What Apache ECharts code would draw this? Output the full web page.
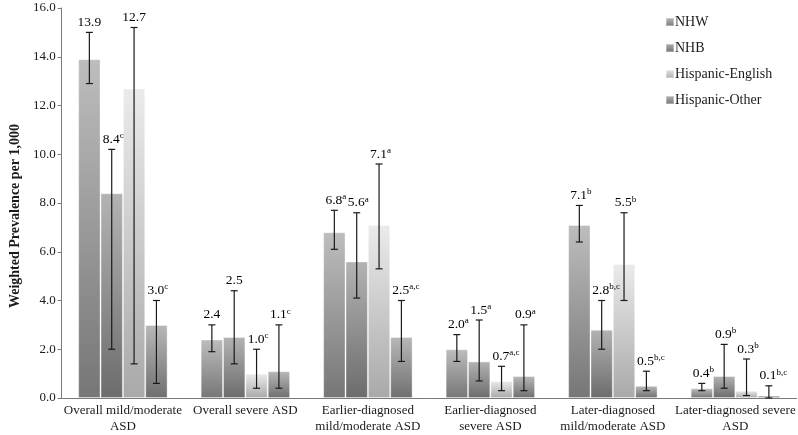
<!DOCTYPE html>
<html>
<head>
<meta charset="utf-8">
<script src="https://cdn.jsdelivr.net/npm/echarts@6/dist/echarts.min.js"></script>
<style>html,body{margin:0;padding:0;background:#fff}#c{width:798px;height:435px}</style>
</head>
<body>
<div id="c"></div>
<script>
var categories = ['Overall mild/moderate\nASD', 'Overall severe ASD', 'Earlier-diagnosed\nmild/moderate ASD', 'Earlier-diagnosed\nsevere ASD', 'Later-diagnosed\nmild/moderate ASD', 'Later-diagnosed severe\nASD'];
var seriesNames = ['NHW', 'NHB', 'Hispanic-English', 'Hispanic-Other'];

var nhw = [13.9, 2.4, 6.8, 2.0, 7.1, 0.4];
var nhb = [8.4, 2.5, 5.6, 1.5, 2.8, 0.9];
var hispEng = [12.7, 1.0, 7.1, 0.7, 5.5, 0.3];
var hispOther = [3.0, 1.1, 2.5, 0.9, 0.5, 0.1];

var nhwLow = [12.9, 1.9, 6.1, 1.5, 6.4, 0.3];
var nhwHigh = [15.0, 3.0, 7.7, 2.6, 7.9, 0.6];
var nhbLow = [2.0, 1.4, 4.1, 0.7, 2.0, 0.4];
var nhbHigh = [10.2, 4.4, 7.6, 3.2, 4.0, 2.2];
var heLow = [1.4, 0.4, 5.3, 0.3, 4.0, 0.1];
var heHigh = [15.2, 2.0, 9.6, 1.3, 7.6, 1.6];
var hoLow = [0.6, 0.4, 1.5, 0.3, 0.3, 0.0];
var hoHigh = [4.0, 3.0, 4.0, 3.0, 1.1, 0.5];

var nhwSup = ['', '', 'a', 'a', 'b', 'b'];
var nhbSup = ['c', '', 'a', 'a', 'b,c', 'b'];
var heSup = ['', 'c', 'a', 'a,c', 'b', 'b'];
var hoSup = ['c', 'c', 'a,c', 'a', 'b,c', 'b,c'];

var yTicks = { min: 0, max: 16, interval: 2 };

var values = [nhw, nhb, hispEng, hispOther];
var lows = [nhwLow, nhbLow, heLow, hoLow];
var highs = [nhwHigh, nhbHigh, heHigh, hoHigh];
var sups = [nhwSup, nhbSup, heSup, hoSup];

var gradStops = [
  ['#bdbdbd', '#767676'],
  ['#b3b3b3', '#6c6c6c'],
  ['#ebebeb', '#a9a9a9'],
  ['#b8b8b8', '#6f6f6f']
];
var CAT_GAP = 0.27;
var FONT = 'Liberation Serif';

function grad(i) {
  return new echarts.graphic.LinearGradient(0, 0, 0, 1, [
    { offset: 0, color: gradStops[i][0] },
    { offset: 1, color: gradStops[i][1] }
  ]);
}

var series = [];
seriesNames.forEach(function (name, i) {
  series.push({
    name: name,
    type: 'bar',
    data: values[i],
    barGap: '0%',
    barCategoryGap: (CAT_GAP * 100) + '%',
    itemStyle: { color: grad(i), borderColor: 'rgba(255,255,255,0.35)', borderWidth: 1 },
    emphasis: { disabled: true },
    z: 2
  });
});
seriesNames.forEach(function (name, i) {
  var data = values[i].map(function (v, k) {
    return [k, lows[i][k], highs[i][k], v, sups[i][k]];
  });
  series.push({
    type: 'custom',
    name: name + '-err',
    silent: true,
    z: 5,
    data: data,
    renderItem: function (params, api) {
      var k = api.value(0);
      var bandW = api.size([1, 0])[0];
      var barW = bandW * (1 - CAT_GAP) / 4;
      var cx = api.coord([k, 0])[0] + (i - 1.5) * barW;
      var pLow = api.coord([k, api.value(1)]);
      var pHigh = api.coord([k, api.value(2)]);
      var cap = 3.5;
      var ls = { stroke: '#1a1a1a', lineWidth: 1.2 };
      var v = values[i][k].toFixed(1);
      var s = sups[i][k];
      var txt = '{v|' + v + '}' + (s ? '{s|' + s + '}' : '');
      return {
        type: 'group',
        children: [
          { type: 'line', shape: { x1: cx, y1: pLow[1], x2: cx, y2: pHigh[1] }, style: ls },
          { type: 'line', shape: { x1: cx - cap, y1: pLow[1], x2: cx + cap, y2: pLow[1] }, style: ls },
          { type: 'line', shape: { x1: cx - cap, y1: pHigh[1], x2: cx + cap, y2: pHigh[1] }, style: ls },
          {
            type: 'text',
            x: cx + (s ? s.length * 1.5 : 0),
            y: pHigh[1] - 3,
            style: {
              text: txt,
              align: 'center',
              verticalAlign: 'bottom',
              rich: {
                v: { fontFamily: FONT, fontSize: 13.5, color: '#1a1a1a', lineHeight: 15, verticalAlign: 'bottom' },
                s: { fontFamily: FONT, fontSize: 9, color: '#1a1a1a', lineHeight: 15, verticalAlign: 'top' }
              }
            }
          }
        ]
      };
    }
  });
});

var chart = echarts.init(document.getElementById('c'), null, { renderer: 'canvas' });
chart.setOption({
  animation: false,
  backgroundColor: '#ffffff',
  textStyle: { fontFamily: FONT },
  grid: { left: 55, right: 0, top: 8, bottom: 35, containLabel: false },
  legend: {
    data: seriesNames,
    orient: 'vertical',
    left: 660,
    top: 10,
    itemWidth: 8,
    itemHeight: 8,
    itemGap: 12,
    icon: 'rect',
    textStyle: { fontFamily: FONT, fontSize: 14, color: '#1a1a1a', padding: [0, 0, 0, -4] }
  },
  xAxis: {
    type: 'category',
    data: categories,
    axisLine: { lineStyle: { color: '#7a7a7a', width: 1 } },
    axisTick: { show: false },
    axisLabel: { fontFamily: FONT, fontSize: 13, color: '#1a1a1a', lineHeight: 16, margin: 5, interval: 0 }
  },
  yAxis: {
    type: 'value',
    min: yTicks.min,
    max: yTicks.max,
    interval: yTicks.interval,
    name: 'Weighted Prevalence per 1,000',
    nameLocation: 'middle',
    nameGap: 38,
    nameTextStyle: { fontFamily: FONT, fontSize: 14, fontWeight: 'bold', color: '#1a1a1a', padding: [0, 26, 0, 0] },
    axisLine: { show: true, lineStyle: { color: '#7a7a7a', width: 1 } },
    axisTick: { show: true, length: 4, lineStyle: { color: '#7a7a7a' } },
    splitLine: { show: false },
    axisLabel: {
      fontFamily: FONT, fontSize: 13, color: '#1a1a1a', margin: 6,
      formatter: function (v) { return v.toFixed(1); }
    }
  },
  series: series
});
</script>
</body>
</html>
